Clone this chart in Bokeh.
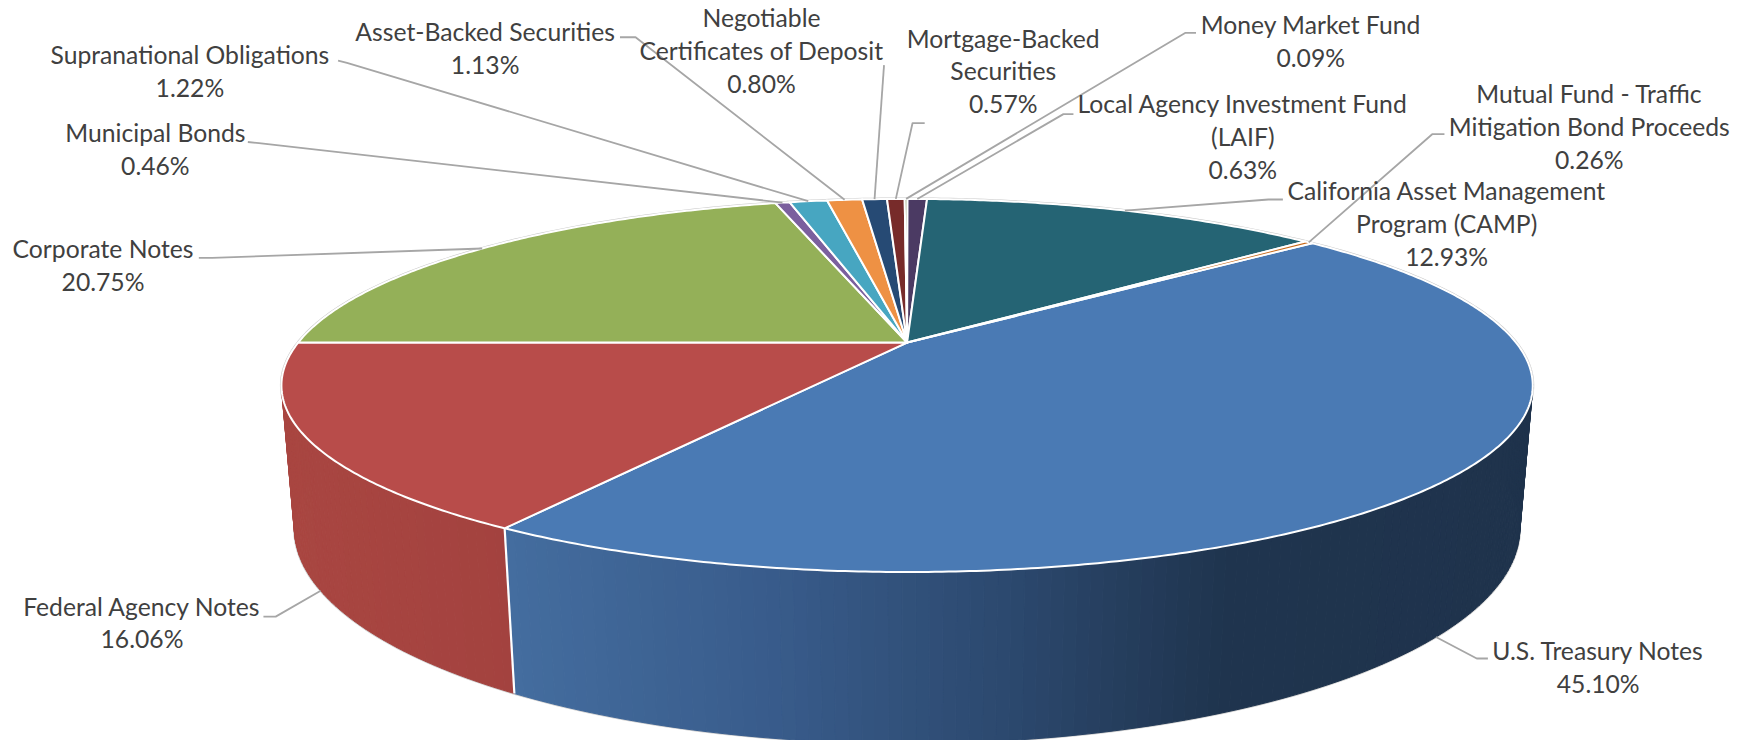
import numpy as np
from bokeh.plotting import figure
from bokeh.models import ColumnDataSource
from bokeh.core.properties import value
from bokeh.embed import file_html
from bokeh.resources import INLINE

# ---- data (clockwise from the Treasury slice) ----
categories = ["U.S. Treasury Notes", "Federal Agency Notes", "Corporate Notes", "Municipal Bonds",
              "Supranational Obligations", "Asset-Backed Securities",
              "Negotiable Certificates of Deposit", "Mortgage-Backed Securities", "Money Market Fund",
              "Local Agency Investment Fund (LAIF)", "California Asset Management Program (CAMP)",
              "Mutual Fund - Traffic Mitigation Bond Proceeds"]
percent = [45.10, 16.06, 20.75, 0.46, 1.22, 1.13, 0.80, 0.57, 0.09, 0.63, 12.93, 0.26]
colors = ["#4a7ab4", "#b84c4a", "#94b058", "#7b5f9e", "#47a6c1", "#ee9144",
          "#264a74", "#772b2a", "#5f7530", "#4b3a63", "#256474", "#c8691a"]

# ---- layout ----
S = 1747 / 1568
label_lines = [["U.S. Treasury Notes"], ["Federal Agency Notes"], ["Corporate Notes"], ["Municipal Bonds"],
               ["Supranational Obligations"], ["Asset-Backed Securities"],
               ["Negotiable", "Certificates of Deposit"], ["Mortgage-Backed", "Securities"], ["Money Market Fund"],
               ["Local Agency Investment Fund", "(LAIF)"], ["California Asset Management", "Program (CAMP)"],
               ["Mutual Fund - Traffic", "Mitigation Bond Proceeds"]]
label_cx = [1434, 127, 92, 139, 170, 435, 683, 900, 1176, 1115, 1298, 1426]
label_y0 = [583.5, 543.5, 222.7, 118.7, 48.5, 27.7, 15.7, 33.7, 21.7, 92.7, 170.7, 83.7]
LINE = 29.4
# leader elbow: (label-side end, elbow)
leaders = [((1335, 590.6), (1325, 590.6), 1), ((236, 553), (247, 553), 1), ((178, 231), (190, 231), 0),
           ((222, 127), (232, 128), 0), ((303, 54), (311, 56), 0), ((556, 33), (570, 33), 0),
           ((793, 58), (793, 58), 0), ((829.5, 110), (818.6, 110), 0), ((1073, 29), (1063.6, 29), 0),
           ((963, 102), (954, 102), 0), ((1151, 178.6), (1138, 178.6), 0), ((1296, 120), (1285, 120), 0)]

CX, CY, A, B, K, M, D = 813.7, 307.0, 546.5, 158.6, 0.23, 0.02, 125.7
START = 49.8  # clockwise degrees from the far point of the pie


def proj(theta, z=0.0):
    """Degrees clockwise from the far point -> page px (perspective cylinder)."""
    t = np.radians(theta)
    X, Y = np.sin(t), -np.cos(t)
    w = 1 - K * Y + M * z
    return (CX + A * X / w) * S, (CY + (B * Y + D * z) / w) * S


p = figure(width=1747, height=740, x_range=(0, 1747), y_range=(740, 0), min_border=0,
           toolbar_location=None, output_backend="svg", outline_line_color=None,
           background_fill_color="white", border_fill_color="white")
p.axis.visible = False
p.grid.visible = False

angles = np.cumsum([0] + [v * 3.6 for v in percent]) + START
mids = (angles[:-1] + angles[1:]) / 2

# soft grey outer contour
th = np.linspace(0, 360, 361)
tx, ty = proj(th)
p.line(tx, ty, line_color="#c9c9c9", line_width=3)
bth = np.linspace(80, 280, 201)
bx, by = proj(bth, 1.0)
p.line(bx, by, line_color="#cfcfcf", line_width=2.5)


def wall_color(x_shrunk, i):
    if i == 0:
        xs = [453, 700, 900, 1100, 1380]
        rs = [(0x44, 0x6d, 0x9f), (0x38, 0x5b, 0x8a), (0x2c, 0x49, 0x6f), (0x1f, 0x34, 0x4e), (0x1f, 0x33, 0x4c)]
    else:
        xs = [250, 460]
        rs = [(0xa9, 0x46, 0x41), (0xa3, 0x42, 0x3f)]
    c = [np.interp(x_shrunk, xs, [r[k] for r in rs]) for k in range(3)]
    return "#%02x%02x%02x" % tuple(int(round(v)) for v in c)


# side wall as fine strips, back to front
sx, sy, sc = [], [], []
for i in (0, 1):
    a0, a1 = max(angles[i], 80.0), min(angles[i + 1], 280.0)
    edges = np.linspace(a0, a1, int((a1 - a0) / 1.0) + 2)
    for e0, e1 in zip(edges[:-1], edges[1:]):
        x0t, y0t = proj(e0)
        x1t, y1t = proj(e1)
        x0b, y0b = proj(e0, 1.0)
        x1b, y1b = proj(e1, 1.0)
        sx.append([x0t, x1t, x1b, x0b])
        sy.append([y0t, y1t, y1b, y0b])
        sc.append(wall_color((x0t + x1t) / 2 / S, i))
order = np.argsort([-abs(np.mean(x) / S - CX) for x in sx])
src = ColumnDataSource(dict(x=[sx[o] for o in order], y=[sy[o] for o in order], c=[sc[o] for o in order]))
p.patches("x", "y", source=src, fill_color="c", line_color="c", line_width=1)

# white seam between the red and blue walls
x0, y0 = proj(angles[1])
x1, y1 = proj(angles[1], 1.0)
p.line([x0, x1], [y0, y1], line_color="white", line_width=2.2)

# top surface
wx, wy = [], []
for a0, a1 in zip(angles[:-1], angles[1:]):
    ar = np.linspace(a0, a1, max(3, int((a1 - a0) * 2)))
    x, y = proj(ar)
    wx.append([CX * S] + list(x))
    wy.append([CY * S] + list(y))
p.patches(wx, wy, fill_color=colors, line_color="white", line_width=2, line_join="round")

# leader lines
lx, ly = [], []
for (a, e, s), m in zip(leaders, mids):
    x, y = proj(m, float(s))
    lx.append([a[0] * S, e[0] * S, x])
    ly.append([a[1] * S, e[1] * S, y])
p.multi_line(lx, ly, line_color="#a6a6a6", line_width=1.8)

# labels
tx_, ty_, tt = [], [], []
for lines, cx, y0_, v in zip(label_lines, label_cx, label_y0, percent):
    for j, t in enumerate(lines + [f"{v:.2f}%"]):
        tx_.append(cx * S)
        ty_.append((y0_ + j * LINE) * S)
        tt.append(t)
p.text(tx_, ty_, text=tt, text_font=value("Lato"), text_font_size="24.7px", text_color="#404040",
       text_align="center", text_baseline="middle")

open("out.html", "w").write(file_html(p, INLINE))
